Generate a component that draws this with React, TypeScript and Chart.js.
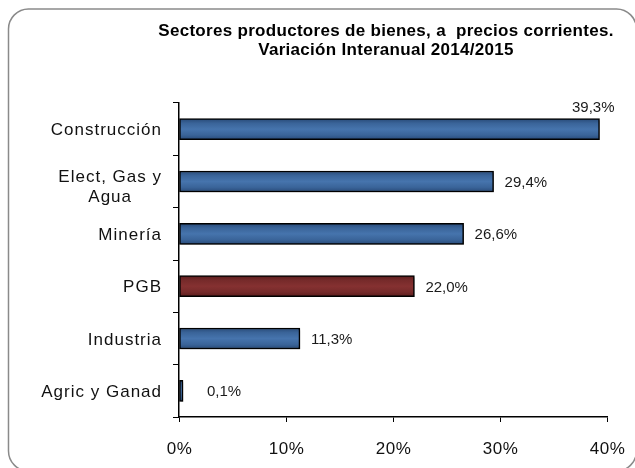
import React, { useEffect, useRef } from 'react';
import { Chart, registerables } from 'chart.js';

Chart.register(...registerables);

// ---- data ----
const categories: (string | string[])[] = [
  'Construcción',
  ['Elect, Gas y', 'Agua'],
  'Minería',
  'PGB',
  'Industria',
  'Agric y Ganad',
];
const values = [39.3, 29.4, 26.6, 22.0, 11.3, 0.1];
const highlighted = ['PGB'];
const xTickValues = [0, 10, 20, 30, 40];
const titleLines = [
  'Sectores productores de bienes, a  precios corrientes.',
  'Variación Interanual 2014/2015',
];

const FONT = '"Liberation Sans", Arial, Helvetica, sans-serif';

const fmtPct = (v: number) => v.toFixed(1).replace('.', ',') + '%';
const labelText = (c: string | string[]) => (Array.isArray(c) ? c.join(' ') : c);

const palette = {
  blue: ['#284a78', '#3a6499', '#4674ad', '#3a6499', '#284a78'],
  red: ['#5a1c1c', '#762a2a', '#853131', '#762a2a', '#5a1c1c'],
};

const decorPlugin = {
  id: 'decor',
  beforeDraw(chart: any) {
    const ctx = chart.ctx as CanvasRenderingContext2D;
    ctx.save();
    ctx.fillStyle = '#ffffff';
    ctx.fillRect(0, 0, chart.width, chart.height);
    // rounded frame (partially off-canvas on the right and bottom)
    const x = 8.5, y = 9, w = 628, h = 462, r = 20;
    ctx.beginPath();
    ctx.moveTo(x + r, y);
    ctx.lineTo(x + w - r, y);
    ctx.arcTo(x + w, y, x + w, y + r, r);
    ctx.lineTo(x + w, y + h - r);
    ctx.arcTo(x + w, y + h, x + w - r, y + h, r);
    ctx.lineTo(x + r, y + h);
    ctx.arcTo(x, y + h, x, y + h - r, r);
    ctx.lineTo(x, y + r);
    ctx.arcTo(x, y, x + r, y, r);
    ctx.closePath();
    ctx.lineWidth = 1.5;
    ctx.strokeStyle = '#8a8a8a';
    ctx.stroke();
    ctx.restore();
  },
  beforeDatasetsDraw(chart: any) {
    const ctx = chart.ctx as CanvasRenderingContext2D;
    ctx.save();
    ctx.shadowColor = 'rgba(0,0,0,0.30)';
    ctx.shadowOffsetX = 1;
    ctx.shadowOffsetY = 2;
    ctx.shadowBlur = 2;
  },
  afterDatasetsDraw(chart: any) {
    const ctx = chart.ctx as CanvasRenderingContext2D;
    ctx.restore();
    const area = chart.chartArea;
    // value labels
    const meta = chart.getDatasetMeta(0);
    ctx.save();
    ctx.font = `15px ${FONT}`;
    ctx.fillStyle = '#1a1a1a';
    ctx.textBaseline = 'alphabetic';
    meta.data.forEach((bar: any, i: number) => {
      const txt = fmtPct(values[i]);
      const tw = ctx.measureText(txt).width;
      const end = bar.x;
      let lx = Math.max(end + 11, area.left + 28);
      if (lx + tw > area.right + 10) {
        ctx.textAlign = 'right';
        ctx.fillText(txt, end + 15, bar.y - 17);
      } else {
        ctx.textAlign = 'left';
        ctx.fillText(txt, lx, bar.y + 5.5);
      }
    });
    ctx.restore();
  },
  afterDraw(chart: any) {
    const ctx = chart.ctx as CanvasRenderingContext2D;
    const ys = chart.scales.y;
    const xs = chart.scales.x;
    ctx.save();
    // title
    ctx.font = `bold 17px ${FONT}`;
    (ctx as any).letterSpacing = '0.3px';
    ctx.fillStyle = '#000000';
    ctx.textAlign = 'center';
    ctx.textBaseline = 'alphabetic';
    titleLines.forEach((t, k) => ctx.fillText(t, 386, 36 + k * 19));

    // category labels
    ctx.font = `17px ${FONT}`;
    (ctx as any).letterSpacing = '1px';
    ctx.fillStyle = '#111111';
    categories.forEach((c, i) => {
      const lines = Array.isArray(c) ? c : [c];
      const yc = ys.getPixelForValue(i);
      const widths = lines.map((l) => ctx.measureText(l).width);
      const bw = Math.max(...widths);
      const right = 162;
      const n = lines.length;
      lines.forEach((l, k) => {
        const base = yc + 6 - (n - 1) * 10 + (n - 1) * 4.5 + k * 20;
        ctx.textAlign = 'center';
        ctx.fillText(l, right - bw / 2, base);
      });
    });

    // x tick labels
    ctx.font = `17px ${FONT}`;
    (ctx as any).letterSpacing = '0.5px';
    ctx.textAlign = 'center';
    xs.ticks.forEach((t: any) => {
      const px = xs.getPixelForValue(t.value);
      ctx.fillText(`${t.value}%`, px + 0.5, 454);
    });
    ctx.restore();
  },
};

function barFill(ctx: any) {
  const name = labelText(categories[ctx.dataIndex ?? 0]);
  const stops = highlighted.includes(name) ? palette.red : palette.blue;
  const chart = ctx.chart;
  const ys = chart.scales && chart.scales.y;
  if (ctx.dataIndex === undefined || !ys) return stops[2];
  const yc = ys.getPixelForValue(ctx.dataIndex);
  if (!Number.isFinite(yc)) return stops[2];
  const g = chart.ctx.createLinearGradient(0, yc - 10.5, 0, yc + 10.5);
  g.addColorStop(0, stops[0]);
  g.addColorStop(0.22, stops[1]);
  g.addColorStop(0.5, stops[2]);
  g.addColorStop(0.78, stops[3]);
  g.addColorStop(1, stops[4]);
  return g;
}

export default function App() {
  const ref = useRef<HTMLCanvasElement | null>(null);

  useEffect(() => {
    if (!ref.current) return;
    const chart = new Chart(ref.current, {
      type: 'bar',
      data: {
        labels: categories.map(labelText),
        datasets: [
          {
            data: values,
            backgroundColor: barFill as any,
            borderColor: '#000000',
            borderWidth: 1.5,
            borderSkipped: false,
            barThickness: 21,
            minBarLength: 4,
          },
        ],
      },
      options: {
        indexAxis: 'y',
        responsive: false,
        animation: false,
        events: [],
        layout: { padding: { top: 103, right: 28, bottom: 0, left: 0 } },
        plugins: {
          legend: { display: false },
          title: { display: false },
          tooltip: { enabled: false },
        },
        scales: {
          x: {
            type: 'linear',
            min: 0,
            max: 40,
            afterBuildTicks: (scale: any) => {
              scale.ticks = xTickValues.map((v) => ({ value: v }));
            },
            afterFit: (scale: any) => {
              scale.height = 51;
            },
            ticks: { display: false },
            grid: {
              drawOnChartArea: false,
              drawTicks: true,
              tickLength: 5,
              color: '#000000',
              lineWidth: 1,
            },
            border: { display: true, color: '#000000', width: 1.5 },
          },
          y: {
            type: 'category',
            afterFit: (scale: any) => {
              scale.width = 179;
            },
            ticks: { display: false },
            grid: {
              offset: true,
              drawOnChartArea: false,
              drawTicks: true,
              tickLength: 6,
              color: '#000000',
              lineWidth: 1,
            },
            border: { display: true, color: '#000000', width: 1.5 },
          },
        },
      },
      plugins: [decorPlugin],
    });
    return () => chart.destroy();
  }, []);

  return (
    <div style={{ position: 'absolute', left: 0, top: 0, width: 635, height: 468 }}>
      <canvas ref={ref} width={635} height={468} style={{ display: 'block' }} />
    </div>
  );
}
